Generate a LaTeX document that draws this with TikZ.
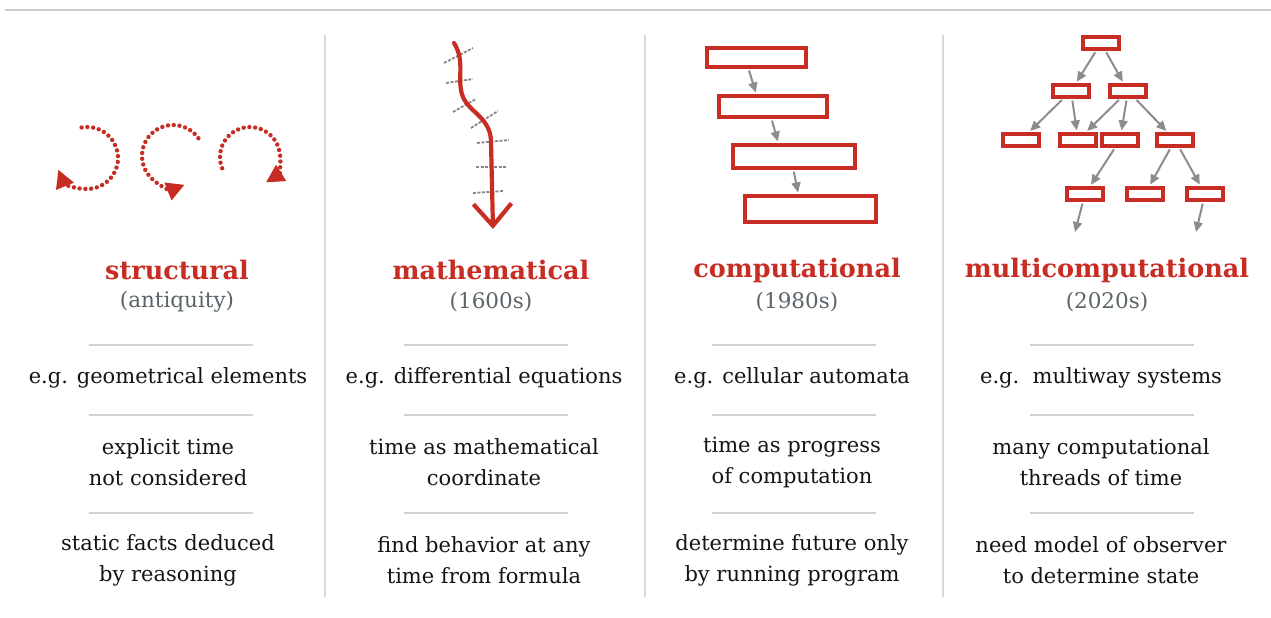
\documentclass[tikz,border=0pt]{standalone}
\usepackage{fontspec}
\setmainfont{DejaVu Serif}
\usepackage{xcolor}
\usepackage{tikz}
\usetikzlibrary{arrows.meta, positioning}
\definecolor{accent}{RGB}{200, 45, 35}
\definecolor{muted}{RGB}{90, 100, 105}
\definecolor{ink}{RGB}{20, 20, 20}
\tikzset{
    title/.style={font=\fontsize{25.5}{30}\selectfont\bfseries, text=accent, inner sep=0pt},
    era/.style={font=\fontsize{21.5}{26}\selectfont, text=muted, inner sep=0pt},
    note/.style={font=\fontsize{21}{31}\selectfont, text=ink, align=center, inner sep=0pt},
    rule/.style={draw=gray!35, line width=1.3pt},
    divider/.style={draw=gray!30, line width=1.3pt},
    box/.style={rectangle, draw=accent, line width=3.2pt, inner sep=0pt},
    twig/.style={box, minimum width=36pt, minimum height=12pt},
    link/.style={draw, -{Triangle[length=10pt, width=9pt]}, line width=2pt, color=gray!90, shorten <=2pt, shorten >=2pt},
    dotarc/.style={draw=accent, line width=4.4pt, dash pattern=on 0pt off 5.8pt, line cap=round, -{Triangle[length=18pt, width=18pt]}},
    hatch/.style={draw=gray!95, line width=1.8pt, dash pattern=on 3pt off 1.5pt}
}

\begin{document}
\begin{tikzpicture}[x=1pt, y=1pt]
        \useasboundingbox (0,0) rectangle (1271,-618);
        \fill[white] (0,0) rectangle (1271,-618);

        % frame
        \draw [draw=gray!40, line width=1.3pt] (5,-10) -- (1271,-10);
        \foreach \vx in {325, 645, 943}
            \draw [divider] (\vx,-35) -- (\vx,-597);
        \foreach \rx in {171, 486, 794, 1112}
            \foreach \ry in {345, 415, 513}
                \draw [rule] (\rx-82,-\ry) -- (\rx+82,-\ry);

        % structural
        \draw [dotarc] ([shift={(100:31)}]87,-158) arc[start angle=100, end angle=-158, radius=31];
        \draw [dotarc] ([shift={(35:31)}]173,-156) arc[start angle=35, end angle=292, radius=31];
        \draw [dotarc] ([shift={(202:30)}]250,-157) arc[start angle=202, end angle=-58, radius=30];

        \node [title] (t1) at (177,-270) {structural};
        \node [era] (y1) at (177,-302) {(antiquity)};
        \node [note] (e1) at (168,-378) {e.g. geometrical elements};
        \node [note] (m1) at (168,-462) {explicit time\\not considered};
        \node [note] (r1) at (168,-560) {static facts deduced\\by reasoning};

        % mathematical
        \draw [hatch] (444,-63) -- (473,-48);
        \draw [hatch] (446,-83) -- (473,-79);
        \draw [hatch] (453,-112) -- (476,-99);
        \draw [hatch] (471,-128) -- (498,-111);
        \draw [hatch] (477,-143) -- (509,-140);
        \draw [hatch] (476,-167) -- (507,-167);
        \draw [hatch] (473,-193) -- (503,-191);
        \draw [draw=accent, line width=4.2pt, line cap=round, -{Straight Barb[length=22pt, width=38pt, line width=4.2pt]}]
            (454,-43) .. controls (466,-62) and (456,-80) .. (463,-97)
            .. controls (469,-112) and (491,-118) .. (491,-142) -- (493,-229);

        \node [title] (t2) at (491,-270) {mathematical};
        \node [era] (y2) at (491,-302) {(1600s)};
        \node [note] (e2) at (484,-378) {e.g. differential equations};
        \node [note] (m2) at (484,-462) {time as mathematical\\coordinate};
        \node [note] (r2) at (484,-560) {find behavior at any\\time from formula};

        % computational
        \node [box, minimum width=99pt, minimum height=19pt] (s1) at (756.5,-57.5) {};
        \node [box, minimum width=108pt, minimum height=21pt] (s2) at (773,-106.5) {};
        \node [box, minimum width=122pt, minimum height=23pt] (s3) at (794,-156.5) {};
        \node [box, minimum width=131pt, minimum height=26pt] (s4) at (810.5,-209) {};
        \draw [link] ([xshift=43pt]s1.south west) -- ([xshift=39pt]s2.north west);
        \draw [link] ([xshift=54pt]s2.south west) -- ([xshift=47pt]s3.north west);
        \draw [link] ([xshift=62pt]s3.south west) -- ([xshift=55pt]s4.north west);

        \node [title] (t3) at (797,-270) {computational};
        \node [era] (y3) at (797,-302) {(1980s)};
        \node [note] (e3) at (792,-378) {e.g. cellular automata};
        \node [note] (m3) at (792,-462) {time as progress\\of computation};
        \node [note] (r3) at (792,-560) {determine future only\\by running program};

        % multicomputational
        \node [twig] (root) at (1101,-43) {};
        \node [twig] (na) at (1071,-91) {};
        \node [twig] (nb) at (1128,-91) {};
        \node [twig] (nc) at (1021,-140) {};
        \node [twig] (nd) at (1078,-140) {};
        \node [twig] (ne) at (1120,-140) {};
        \node [twig] (nf) at (1175,-140) {};
        \node [twig] (ng) at (1085,-194) {};
        \node [twig] (nh) at (1145,-194) {};
        \node [twig] (ni) at (1205,-194) {};
        \coordinate (gout) at (1075,-232);
        \coordinate (iout) at (1196,-232);
        \draw [link] (root) -- (na);
        \draw [link] (root) -- (nb);
        \draw [link] (na) -- (nc);
        \draw [link] (na) -- (nd);
        \draw [link] (nb) -- (nd);
        \draw [link] (nb) -- (ne);
        \draw [link] (nb) -- (nf);
        \draw [link] (ne) -- (ng);
        \draw [link] (nf) -- (nh);
        \draw [link] (nf) -- (ni);
        \draw [link, shorten >=0pt] (ng) -- (gout);
        \draw [link, shorten >=0pt] (ni) -- (iout);

        \node [title] (t4) at (1107,-270) {multicomputational};
        \node [era] (y4) at (1107,-302) {(2020s)};
        \node [note] (e4) at (1101,-378) {e.g.\ \ multiway systems};
        \node [note] (m4) at (1101,-462) {many computational\\threads of time};
        \node [note] (r4) at (1101,-560) {need model of observer\\to determine state};

    \end{tikzpicture}
\end{document}
